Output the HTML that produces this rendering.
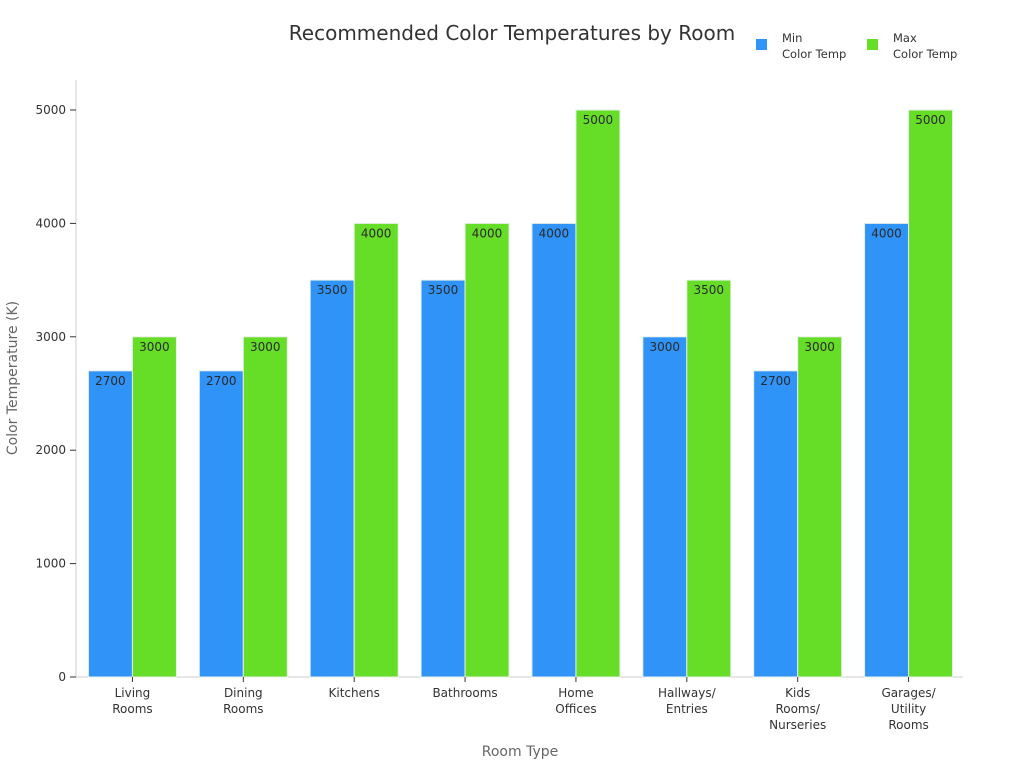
<!DOCTYPE html>
<html><head><meta charset="utf-8"><style>
body{margin:0;background:#fff;font-family:"DejaVu Sans","Liberation Sans",sans-serif;}
svg text{font-family:"DejaVu Sans","Liberation Sans",sans-serif;}
</style></head><body>
<svg id="chart" width="1024" height="768">
<text x="512" y="40" text-anchor="middle" font-size="20" fill="#333">Recommended Color Temperatures by Room</text>
<g>
<rect x="756" y="39" width="11" height="11" fill="#2f93f7"/>
<text x="782" y="42" font-size="11.5" fill="#333"><tspan x="782">Min</tspan><tspan x="782" dy="16">Color Temp</tspan></text>
<rect x="867" y="39" width="11" height="11" fill="#66dd27"/>
<text x="893" y="42" font-size="11.5" fill="#333"><tspan x="893">Max</tspan><tspan x="893" dy="16">Color Temp</tspan></text>
</g>
<text transform="translate(17,378) rotate(-90)" text-anchor="middle" font-size="14" fill="#666">Color Temperature (K)</text>
<text x="520" y="756" text-anchor="middle" font-size="14" fill="#666">Room Type</text>
<g id="plot"></g>
</svg>
<script>
const categories=[["Living","Rooms"],["Dining","Rooms"],["Kitchens"],["Bathrooms"],["Home","Offices"],["Hallways/","Entries"],["Kids","Rooms/","Nurseries"],["Garages/","Utility","Rooms"]];
const minValues=[2700,2700,3500,3500,4000,3000,2700,4000];
const maxValues=[3000,3000,4000,4000,5000,3500,3000,5000];
const yTicks=[0,1000,2000,3000,4000,5000];
const NS="http://www.w3.org/2000/svg";
const g=document.getElementById('plot');
const x0=76,x1=963,yBase=677,yTop=80;
const y=v=>yBase-v*(567/5000);
const band=(x1-x0)/categories.length;
function mk(t,a){const e=document.createElementNS(NS,t);for(const k in a)e.setAttribute(k,a[k]);g.appendChild(e);return e;}
let e=mk('line',{x1:x0,y1:yTop,x2:x0,y2:yBase,stroke:'#ccc'});


e=mk('line',{x1:x0,y1:yBase,x2:x1,y2:yBase,stroke:'#ccc'});


yTicks.forEach(v=>{
 let t=mk('line',{x1:x0-6,x2:x0,y1:y(v),y2:y(v),stroke:'#333'});
 
 
 let l=mk('text',{x:x0-10,y:y(v)+4,'text-anchor':'end','font-size':12,fill:'#333'});
 l.textContent=v;
 
 
});
const bw=44;
categories.forEach((c,i)=>{
 const cx=x0+band*(i+0.5)+1;
 [[minValues[i],'#2f93f7',cx-bw,'bar-min'],[maxValues[i],'#66dd27',cx,'bar-max']].forEach(([v,col,bx,nm])=>{
  let r=mk('rect',{x:bx,y:y(v),width:bw,height:yBase-y(v),fill:col,stroke:'#e8f0e8','stroke-width':1});
  
  
  let t=mk('text',{x:bx+bw/2,y:y(v)+14,'text-anchor':'middle','font-size':12,fill:'#2a2a2a'});
  t.textContent=v;
  
  
 });
 let tk=mk('line',{x1:cx,x2:cx,y1:yBase,y2:yBase+5,stroke:'#333'});
 
 
 let tl=mk('text',{x:cx,y:yBase+20,'text-anchor':'middle','font-size':12,fill:'#333'});
 
 
 c.forEach((s,j)=>{const ts=document.createElementNS(NS,'tspan');ts.setAttribute('x',cx);if(j)ts.setAttribute('dy',16);ts.textContent=s;tl.appendChild(ts);});
});
</script>
</body></html>
